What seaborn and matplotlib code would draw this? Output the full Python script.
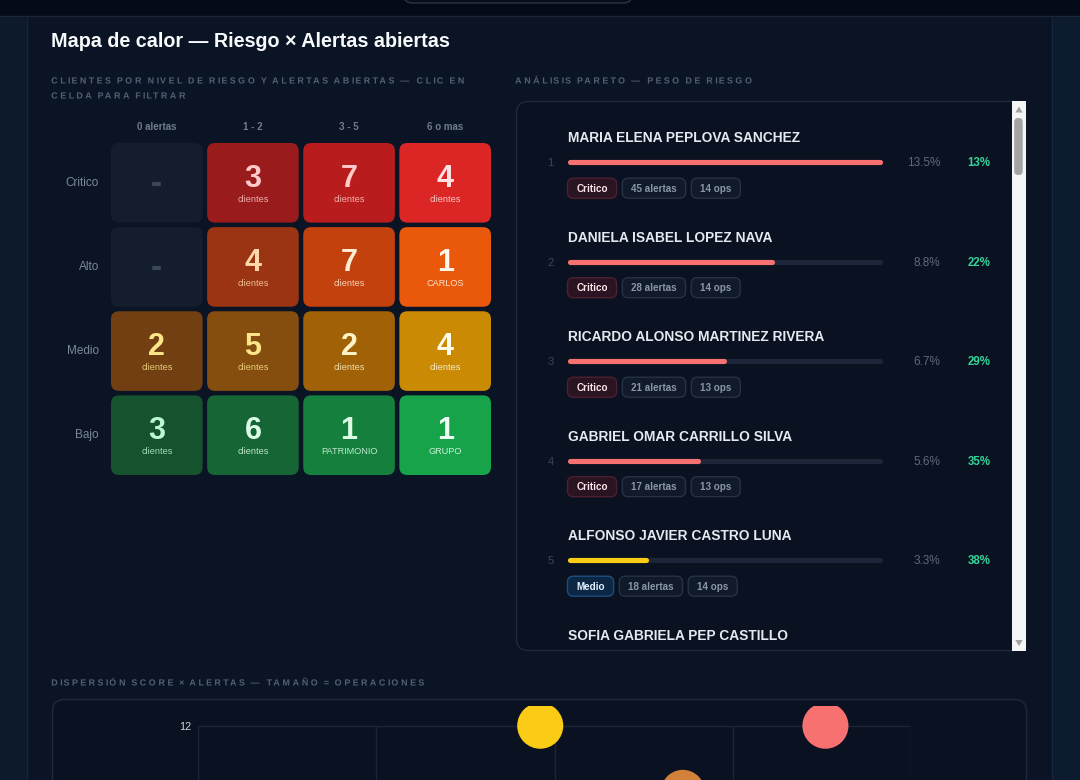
import numpy as np
import pandas as pd
import matplotlib
matplotlib.use("Agg")
import matplotlib.pyplot as plt
import matplotlib.patheffects as pe
from matplotlib.patches import FancyBboxPatch, Rectangle, Polygon
from matplotlib.path import Path
import seaborn as sns

# ---------------- data ----------------
RISK_LEVELS = ["Critico", "Alto", "Medio", "Bajo"]
ALERT_BUCKETS = ["0 alertas", "1 - 2", "3 - 5", "6 o mas"]
COUNT_CRITICO = [0, 3, 7, 4]
COUNT_ALTO = [0, 4, 7, 1]
COUNT_MEDIO = [2, 5, 2, 4]
COUNT_BAJO = [3, 6, 1, 1]
LABEL_CRITICO = ["", "clientes", "clientes", "clientes"]
LABEL_ALTO = ["", "clientes", "clientes", "CARLOS"]
LABEL_MEDIO = ["clientes", "clientes", "clientes", "clientes"]
LABEL_BAJO = ["clientes", "clientes", "PATRIMONIO", "GRUPO"]

PARETO_NAMES = [
    "MARIA ELENA PEPLOVA SANCHEZ",
    "DANIELA ISABEL LOPEZ NAVA",
    "RICARDO ALONSO MARTINEZ RIVERA",
    "GABRIEL OMAR CARRILLO SILVA",
    "ALFONSO JAVIER CASTRO LUNA",
    "SOFIA GABRIELA PEP CASTILLO",
]
PARETO_LEVEL = ["Critico", "Critico", "Critico", "Critico", "Medio"]
PARETO_WEIGHT = [13.5, 8.8, 6.7, 5.6, 3.3]
PARETO_CUM = [13, 22, 29, 35, 38]
PARETO_ALERTS = [45, 28, 21, 17, 18]
PARETO_OPS = [14, 14, 13, 13, 14]

SCATTER_LEVEL = ["Medio", "Critico", "Alto"]
SCATTER_SCORE = [48, 88, 68]
SCATTER_ALERTS = [12, 12, 9]
SCATTER_OPS = [14, 14, 13]
SCATTER_XTICKS = [0, 25, 50, 75, 100]
SCATTER_YTICKS = [0, 3, 6, 9, 12]

# ---------------- style ----------------
W, H = 1080, 780
BG = "#0a1424"
PANEL = "#0a1221"
BORDER = "#1e293b"
CAPTION = "#536074"
CELL_FILL = [
    ["#131d2d", "#991b1b", "#b91c1c", "#dc2626"],
    ["#131d2d", "#9a3412", "#c2410c", "#ea580c"],
    ["#713f12", "#854d0e", "#a16207", "#ca8a04"],
    ["#14532d", "#166534", "#15803d", "#16a34a"],
]
NUM_COLOR = [
    ["#3b4759", "#fecaca", "#fecaca", "#fee2e2"],
    ["#3b4759", "#fed7aa", "#ffedd5", "#fff7ed"],
    ["#fde68a", "#fde68a", "#fef3c7", "#fefce8"],
    ["#bbf7d0", "#dcfce7", "#dcfce7", "#f0fdf4"],
]
LEVEL_BAR = {"Critico": "#f87171", "Medio": "#facc15", "Alto": "#d2803a"}
LEVEL_BADGE = {"Critico": ("#2a1422", "#4e1f30", "#fde4ea"),
               "Medio": ("#0b2744", "#1d4e80", "#e3f0ff")}
GREY_BADGE = ("#111a29", "#263245", "#8a96a8")

sns.set_theme(style="dark", rc={"axes.facecolor": "none", "figure.facecolor": BG,
                                "axes.edgecolor": "none"})
plt.rcParams["font.family"] = ["Liberation Sans", "DejaVu Sans"]

fig = plt.figure(figsize=(W / 100, H / 100), dpi=100, facecolor=BG)
renderer = fig.canvas.get_renderer()
canvas = fig.add_axes([0, 0, 1, 1])
canvas.set_xlim(0, W)
canvas.set_ylim(H, 0)
canvas.axis("off")
canvas.set_zorder(0)


def px_axes(l, t, r, b, z=2):
    ax = fig.add_axes([l / W, 1 - b / H, (r - l) / W, (b - t) / H])
    ax.set_zorder(z)
    ax.patch.set_alpha(0)
    return ax


class LetterSpace(pe.AbstractPathEffect):
    """Spread glyphs apart (CSS letter-spacing look) while keeping glyph shapes."""

    def __init__(self, sx):
        super().__init__()
        self.sx = sx

    def draw_path(self, renderer, gc, tpath, affine, rgbFace=None):
        verts = np.array(tpath.vertices, dtype=float)
        codes = tpath.codes
        if codes is None or len(codes) == 0:
            renderer.draw_path(gc, tpath, affine, rgbFace)
            return
        starts = list(np.where(codes == Path.MOVETO)[0]) + [len(codes)]
        g_min = g_max = None
        shift = 0.0
        for a, b in zip(starts[:-1], starts[1:]):
            valid = codes[a:b] != Path.CLOSEPOLY
            if not valid.any():
                continue
            xs = verts[a:b][valid, 0]
            xmin, xmax = xs.min(), xs.max()
            same = False
            if g_min is not None:
                ov = min(xmax, g_max) - max(xmin, g_min)
                same = ov > 0.5 * min(xmax - xmin, g_max - g_min)
            if same:
                g_min, g_max = min(g_min, xmin), max(g_max, xmax)
            else:
                g_min, g_max = xmin, xmax
                shift = (self.sx - 1.0) * xmin
            verts[a:b, 0] += shift
        renderer.draw_path(gc, Path(verts, codes), affine, rgbFace)


def caption(x, y, s, target_w=None, sx=None):
    t = canvas.text(x, y, s, fontsize=6.4, fontweight="bold", color=CAPTION,
                    va="center", ha="left", zorder=5)
    if sx is None:
        w = t.get_window_extent(renderer).width
        sx = 1.0 + (target_w - w) / (w - 5.0)
    t.set_path_effects([LetterSpace(sx)])
    return sx


# ---------------- page background ----------------
canvas.add_patch(Rectangle((0, 0), 26.5, H, color="#0c1a2c", zorder=0))
canvas.add_patch(Rectangle((1051.5, 0), 30, H, color="#0d1b2e", zorder=0))
canvas.plot([26.5, 26.5], [0, H], color="#17243a", lw=1, zorder=1)
canvas.plot([1051.5, 1051.5], [0, H], color="#17243a", lw=1, zorder=1)
canvas.add_patch(Rectangle((0, 0), W, 15.5, color="#050a18", zorder=1))
canvas.plot([0, W], [15.5, 15.5], color="#1b2638", lw=1, zorder=2)
canvas.add_patch(FancyBboxPatch((403, -22), 230, 25, boxstyle="round,pad=0,rounding_size=10",
                                fc="#070d1c", ec="#2a3447", lw=1, zorder=2))

# ---------------- titles ----------------
canvas.text(51, 46.7, "Mapa de calor \u2014 Riesgo \u00d7 Alertas abiertas", fontsize=14.2,
            fontweight="bold", color="#f8fafc", va="baseline", ha="left", zorder=5)
sx1 = caption(51, 81, "CLIENTES POR NIVEL DE RIESGO Y ALERTAS ABIERTAS \u2014 CLIC EN", target_w=415)
caption(51, 96, "CELDA PARA FILTRAR", sx=sx1)
caption(515, 81, "AN\u00c1LISIS PARETO \u2014 PESO DE RIESGO", target_w=238)
caption(51, 683, "DISPERSI\u00d3N SCORE \u00d7 ALERTAS \u2014 TAMA\u00d1O = OPERACIONES", target_w=374)

# ---------------- heatmap ----------------
counts = [COUNT_CRITICO, COUNT_ALTO, COUNT_MEDIO, COUNT_BAJO]
labels = [LABEL_CRITICO, LABEL_ALTO, LABEL_MEDIO, LABEL_BAJO]
hm_df = pd.DataFrame(counts, index=RISK_LEVELS, columns=ALERT_BUCKETS)
ax_hm = px_axes(108.75, 140.75, 493.25, 477.25)
sns.heatmap(hm_df, mask=np.ones(hm_df.shape, dtype=bool), cbar=False, vmin=0, vmax=10,
            ax=ax_hm, xticklabels=True, yticklabels=True)
ax_hm.set_xlabel("")
ax_hm.set_ylabel("")
ax_hm.xaxis.tick_top()
ax_hm.tick_params(axis="x", length=0, pad=6.5, labelsize=7, labelcolor="#6f7b8d",
                  top=False, bottom=False, labeltop=True, labelbottom=False)
ax_hm.tick_params(axis="y", length=0, pad=7, labelsize=8.5, labelcolor="#7c889a", rotation=0)
for lab in ax_hm.get_xticklabels():
    lab.set_fontweight("bold")

px_x = (493.25 - 108.75) / 4
px_y = (477.25 - 140.75) / 4
gx, gy = 2.25 / px_x, 2.25 / px_y
for i in range(len(RISK_LEVELS)):
    for j in range(len(ALERT_BUCKETS)):
        val = hm_df.iloc[i, j]
        ax_hm.add_patch(FancyBboxPatch(
            (j + gx, i + gy), 1 - 2 * gx, 1 - 2 * gy,
            boxstyle=f"round,pad=0,rounding_size={8 / px_x}", mutation_aspect=px_x / px_y,
            fc=CELL_FILL[i][j], ec="none", zorder=2))
        if val > 0:
            ax_hm.text(j + 0.5, i + 0.5 + 4 / px_y, str(val), ha="center", va="baseline",
                       fontsize=22, fontweight="bold", color=NUM_COLOR[i][j], zorder=3)
            ax_hm.text(j + 0.5, i + 0.5 + 19 / px_y, labels[i][j], ha="center", va="baseline",
                       fontsize=6.6, color=NUM_COLOR[i][j], alpha=0.85, zorder=3)
        else:
            ax_hm.text(j + 0.5, i + 0.5 + 10 / px_y, "-", ha="center", va="baseline",
                       fontsize=24, fontweight="bold", color=NUM_COLOR[i][j], zorder=3)

# ---------------- pareto ----------------
canvas.add_patch(FancyBboxPatch((516.5, 101.5), 509, 549, boxstyle="round,pad=0,rounding_size=12",
                                fc=PANEL, ec=BORDER, lw=1, zorder=1))
ax_p = px_axes(516, 101, 1012, 651)
k = (879.5 - 570.0) / max(PARETO_WEIGHT)
ax_p.set_xlim((516 - 570.0) / k, (1012 - 570.0) / k)
ax_p.set_ylim((651 - 162) / 99.5, (101 - 162) / 99.5)
ax_p.axis("off")
max_w = max(PARETO_WEIGHT)
for i, w in enumerate(PARETO_WEIGHT):
    ax_p.plot([0, max_w], [i, i], color="#1c2638", lw=3.7, solid_capstyle="round", zorder=2)
    ax_p.plot([0, w], [i, i], color=LEVEL_BAR[PARETO_LEVEL[i]], lw=3.7,
              solid_capstyle="round", zorder=3)


def prow(i):
    return H - ax_p.transData.transform((0, i))[1]


def badge(x_left, yc, text, colors):
    fc, ec, tc = colors
    padx = 8.8
    t = canvas.text(x_left + padx, yc + 3.6, text, fontsize=7.1, fontweight="bold", color=tc,
                    va="baseline", ha="left", zorder=6)
    w = t.get_window_extent(renderer).width
    canvas.add_patch(FancyBboxPatch((x_left, yc - 10), w + 2 * padx, 20,
                                    boxstyle="round,pad=0,rounding_size=6",
                                    fc=fc, ec=ec, lw=1, zorder=5))
    return x_left + w + 2 * padx


for i, name in enumerate(PARETO_NAMES):
    y = prow(i)
    canvas.text(567.5, y - 19.7, name, fontsize=9.95, fontweight="bold", color="#e5e9f0",
                va="baseline", ha="left", zorder=5)
    if i < len(PARETO_WEIGHT):
        canvas.text(550.5, y + 4, str(i + 1), fontsize=8, color="#3a4659",
                    ha="center", va="baseline", zorder=5)
        canvas.text(940, y + 4, f"{PARETO_WEIGHT[i]:.1f}%", fontsize=8.5, color="#5d6a7c",
                    ha="right", va="baseline", zorder=5)
        canvas.text(990.5, y + 4, f"{PARETO_CUM[i]}%", fontsize=8.3, fontweight="bold",
                    color="#34d399", ha="right", va="baseline", zorder=5)
        xb = badge(567.5, y + 26.2, PARETO_LEVEL[i], LEVEL_BADGE[PARETO_LEVEL[i]])
        xb = badge(xb + 5.7, y + 26.2, f"{PARETO_ALERTS[i]} alertas", GREY_BADGE)
        badge(xb + 5.7, y + 26.2, f"{PARETO_OPS[i]} ops", GREY_BADGE)

# scrollbar
canvas.add_patch(Rectangle((1012, 101), 14, 550, fc="#f5f5f5", ec="none", zorder=6))
canvas.add_patch(FancyBboxPatch((1014.2, 118), 8.5, 57, boxstyle="round,pad=0,rounding_size=4",
                                fc="#a3a3a3", ec="none", zorder=7))
canvas.add_patch(Polygon([(1015.3, 112.5), (1022.7, 112.5), (1019, 106.5)], fc="#a3a3a3",
                         ec="none", zorder=7))
canvas.add_patch(Polygon([(1015.3, 640), (1022.7, 640), (1019, 646)], fc="#a3a3a3",
                         ec="none", zorder=7))

# ---------------- scatter ----------------
canvas.add_patch(FancyBboxPatch((52.5, 699.5), 974, 200, boxstyle="round,pad=0,rounding_size=12",
                                fc=PANEL, ec=BORDER, lw=1, zorder=1))
ax_s = px_axes(198, 706, 911, 990)
sc_df = pd.DataFrame({"nivel": SCATTER_LEVEL, "score": SCATTER_SCORE,
                      "alertas": SCATTER_ALERTS, "ops": SCATTER_OPS})
ymax_tick = max(SCATTER_YTICKS)
ax_s.vlines(SCATTER_XTICKS, 0, ymax_tick, color="#1a2536", lw=1, zorder=1)
ax_s.hlines(SCATTER_YTICKS, 0, max(SCATTER_XTICKS), color="#1a2536", lw=1, zorder=1)
sns.scatterplot(data=sc_df, x="score", y="alertas", hue="nivel", size="ops", sizes=(1000, 1100),
                palette=LEVEL_BAR, legend=False, ax=ax_s, linewidth=0, alpha=1, zorder=3)
ax_s.set_xlim(0, max(SCATTER_XTICKS))
ax_s.set_ylim(0, ymax_tick + 19.7 / 22)
ax_s.set_xticks(SCATTER_XTICKS)
ax_s.set_yticks(SCATTER_YTICKS)
ax_s.set_xlabel("")
ax_s.set_ylabel("")
ax_s.grid(False)
for sp in ax_s.spines.values():
    sp.set_visible(False)
ax_s.tick_params(length=0, pad=5, labelsize=7.8, labelcolor="#cbd5e1", labelbottom=False)
# tick labels that fall below the visible part of the page stay hidden
for v, lab in zip(SCATTER_YTICKS, ax_s.get_yticklabels()):
    if ax_s.transData.transform((0, v))[1] < 10:
        lab.set_visible(False)

fig.savefig("out.png", dpi=100, facecolor=BG)
